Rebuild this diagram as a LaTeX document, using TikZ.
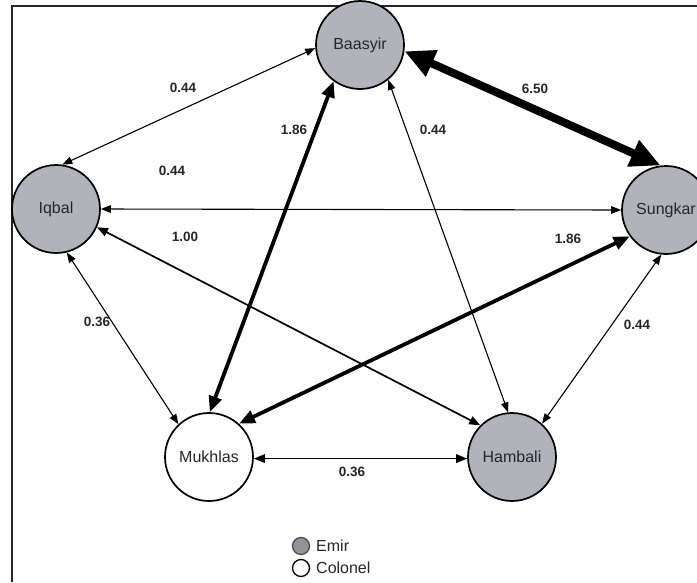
\documentclass[tikz,border=0pt]{standalone}
\usepackage{fontspec}
\setmainfont{Liberation Sans}
\usetikzlibrary{arrows.meta}
\definecolor{emirfill}{RGB}{176,179,185}
\definecolor{keyfill}{RGB}{145,148,154}
\definecolor{inkgray}{RGB}{38,38,38}
\begin{document}
\begin{tikzpicture}[x=1pt,y=-1pt,
  person/.style={circle, draw=black, line width=1.7pt, minimum size=88pt,
    inner sep=0pt, font=\fontsize{16}{19}\selectfont, text=inkgray},
  emir/.style={person, fill=emirfill},
  colonel/.style={person, fill=white},
  weight/.style={font=\bfseries\fontsize{13.5}{15}\selectfont, text=inkgray, inner sep=0pt},
  tiethin/.style={line width=1.1pt, {Triangle[length=10pt,width=7.5pt]}-{Triangle[length=10pt,width=7.5pt]}},
  tiemid/.style={line width=1.7pt, {Triangle[length=11pt,width=8.5pt]}-{Triangle[length=11pt,width=8.5pt]}},
  tiestrong/.style={line width=3.8pt, {Triangle[length=16pt,width=13pt]}-{Triangle[length=16pt,width=13pt]}},
  tieheavy/.style={line width=8pt, {Triangle[length=30pt,width=27pt]}-{Triangle[length=30pt,width=27pt]}},
  keydot/.style={circle, line width=1.3pt, minimum size=17pt, inner sep=0pt},
  keytext/.style={anchor=west, font=\fontsize{16}{19}\selectfont, text=inkgray, inner sep=0pt}
]
\useasboundingbox (0,0) rectangle (697,582);
\clip (0,0) rectangle (697,582);

% frame
\draw[line width=1.5pt, black!85] (12,582) -- (12,6) -- (697,6);

% members
\node[emir]    (ba) at (360,45)  {Baasyir};
\node[emir]    (iq) at (56,209)  {Iqbal};
\node[emir]    (su) at (666,210) {Sungkar};
\node[colonel] (mu) at (209,457) {Mukhlas};
\node[emir]    (ha) at (512,457) {Hambali};

% ties
\draw[tiethin]   (iq.82)  -- (ba.184);
\draw[tieheavy]  (ba.352) -- (su.97);
\draw[tiestrong] (ba.234) -- (mu.89);
\draw[tiethin]   (ba.309) -- (ha.95);
\draw[tiethin]   (iq.0)   -- (su.180);
\draw[tiemid]    (iq.336) -- (ha.135);
\draw[tiethin]   (iq.284) -- (mu.133);
\draw[tiestrong] (su.216) -- (mu.48);
\draw[tiethin]   (su.264) -- (ha.48);
\draw[tiemid]    (mu.358) -- (ha.182);

% tie weights
\node[weight] (w1)  at (183,88)  {0.44};
\node[weight] (w2)  at (535,89)  {6.50};
\node[weight] (w3)  at (294,130) {1.86};
\node[weight] (w4)  at (433,130) {0.44};
\node[weight] (w5)  at (172,171) {0.44};
\node[weight] (w6)  at (185,237) {1.00};
\node[weight] (w7)  at (568,239) {1.86};
\node[weight] (w8)  at (97,322)  {0.36};
\node[weight] (w9)  at (637,325) {0.44};
\node[weight] (w10) at (352,472) {0.36};

% key
\node[keydot, draw=black!70, fill=keyfill] (k1) at (301,546) {};
\node[keytext] (k1t) at (316,546) {Emir};
\node[keydot, draw=black, fill=white] (k2) at (301,568) {};
\node[keytext] (k2t) at (316,568) {Colonel};
\end{tikzpicture}
\end{document}
